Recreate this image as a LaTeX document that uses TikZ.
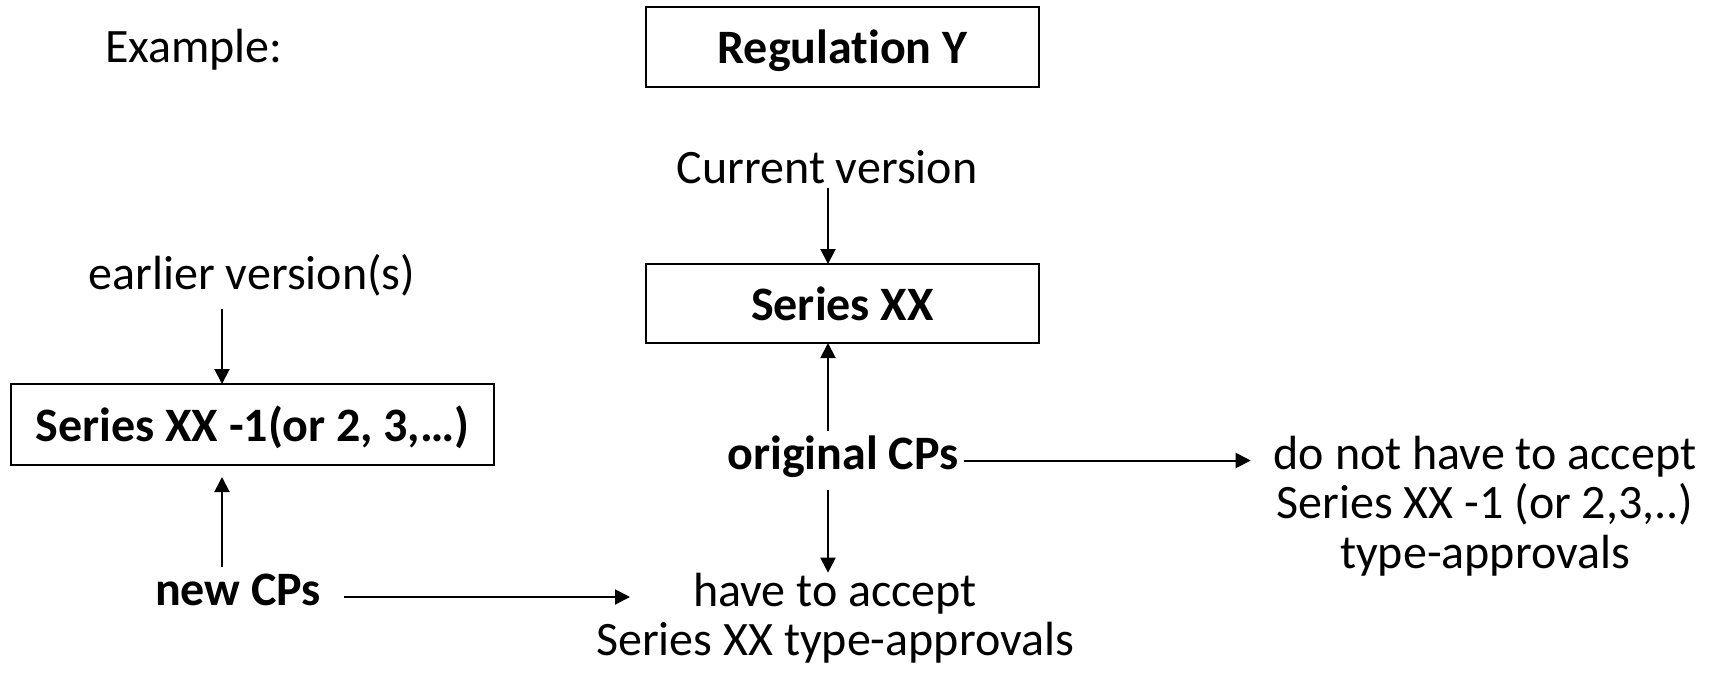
\documentclass[tikz,border=0pt]{standalone}
\usepackage{fontspec}
\setmainfont[Ligatures=NoCommon]{Carlito}
\usetikzlibrary{arrows.meta}
\begin{document}
\begin{tikzpicture}[x=1pt,y=-1pt,
  txt/.style={font=\fontsize{48}{49.5}\selectfont, inner sep=0pt, outer sep=0pt, align=center},
  boldtxt/.style={txt, font=\fontsize{48}{49.5}\selectfont\bfseries},
  box/.style={boldtxt, draw, line width=2pt, text height=33pt, text depth=0pt},
  conn/.style={line width=2pt, -{Triangle[length=15pt,width=15pt]}},
]
\useasboundingbox (0,0) rectangle (1711,673);

% columns of the vertical connectors
\coordinate (mcol) at (828,0);
\coordinate (lcol) at (222,0);

% title row
\node[txt, anchor=base west] (ex) at (105,62) {Example:};
\node[box, minimum width=393pt, minimum height=80pt] (regy) at (842.5,47) {Regulation Y};

% current version branch (multi-line nodes are placed by their last baseline)
\node[txt, anchor=base, text height=35pt, text depth=5pt] (cur) at (827,183) {Current version};
\node[box, minimum width=393pt, minimum height=79pt] (sxx) at (842.5,303.5) {Series XX};
\node[boldtxt, anchor=base, text height=38pt, text depth=21pt] (orig) at (843,469) {original CPs};
\node[txt, anchor=base] (dont) at (1485,568) {do not have to accept\\Series XX -1 (or 2,3,..)\\type-approvals};
\node[txt, anchor=base] (have) at (835,655.5) {have to accept\\Series XX type-approvals};

% earlier versions branch
\node[txt, anchor=base, text height=35pt, text depth=20pt] (earlier) at (252,289) {earlier version(s)};
\node[box, minimum width=483pt, minimum height=81pt] (sleft) at (252.5,424.5) {Series XX -1(or 2, 3,…)};
\node[boldtxt, anchor=base, text height=38pt, text depth=22pt] (new) at (238,605) {new CPs};
\coordinate (ntip) at (630,597);

% connectors
\draw[conn] (cur.south -| mcol) -- (sxx.north -| mcol);
\draw[conn] (orig.north -| mcol) -- (sxx.south -| mcol);
\draw[conn] (orig.south -| mcol) -- (have.north -| mcol);
\draw[conn, shorten <=6pt, shorten >=23pt] (orig.east) -- (orig.east -| dont.west);
\draw[conn] (earlier.south -| lcol) -- (sleft.north -| lcol);
\draw[conn, shorten >=12pt] (new.north -| lcol) -- (sleft.south -| lcol);
\draw[conn, shorten <=23pt] (new.east) -- (ntip);
\end{tikzpicture}
\end{document}
